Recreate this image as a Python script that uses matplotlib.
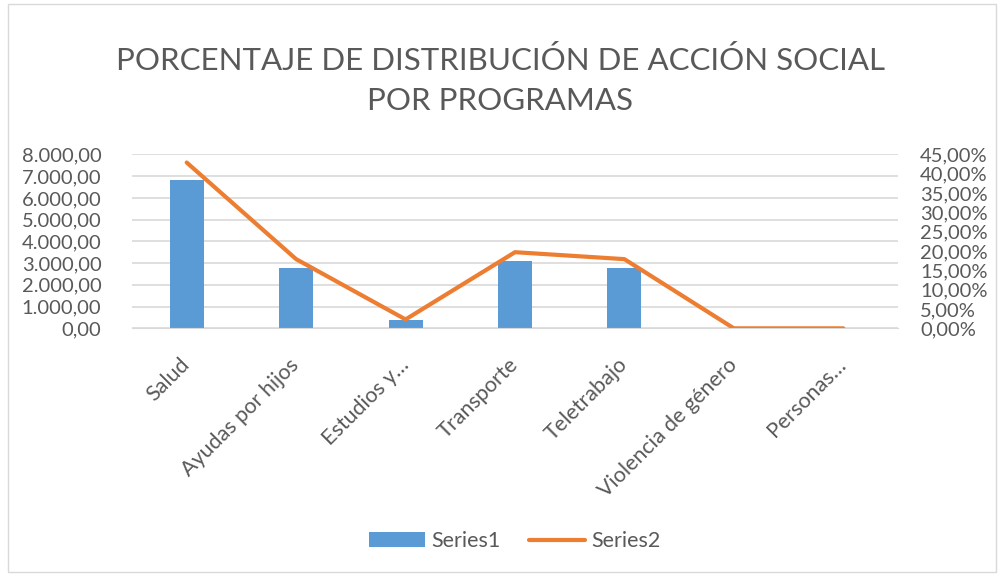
import matplotlib
matplotlib.use('Agg')
from matplotlib import pyplot as plt
from matplotlib.patches import Rectangle
from matplotlib.ticker import FuncFormatter
import numpy as np

categories = ['Salud', 'Ayudas por hijos', 'Estudios y…', 'Transporte', 'Teletrabajo',
              'Violencia de género', 'Personas…']
series1 = [6820, 2790, 370, 3095, 2790, 0, 0]
series2 = [0.429, 0.179, 0.023, 0.197, 0.179, 0.0, 0.0]

blue = '#5B9BD5'
orange = '#ED7D31'
grey = '#595959'

plt.rcParams['font.family'] = ['Lato', 'DejaVu Sans']

fig = plt.figure(figsize=(10, 5.74), dpi=100)
ax = fig.add_axes([0.132, 0.428, 0.766, 0.303])
ax2 = ax.twinx()

x = np.arange(len(categories))
ax.bar(x, series1, width=0.31, color=blue, label='Series1', zorder=2)
ax2.plot(x, series2, color=orange, linewidth=3, solid_capstyle='round', label='Series2', zorder=3)

ax.set_xlim(-0.5, len(categories) - 0.5)
ax.set_ylim(0, 8000)
ax.set_yticks(np.arange(0, 8001, 1000))
ax2.set_ylim(0, 0.45)
ax2.set_yticks(np.arange(0, 0.451, 0.05))

def fmt_left(v, pos):
    s = f'{v:,.2f}'
    return s.replace(',', 'X').replace('.', ',').replace('X', '.')

def fmt_right(v, pos):
    return f'{v * 100:.2f}%'.replace('.', ',')

ax.yaxis.set_major_formatter(FuncFormatter(fmt_left))
ax2.yaxis.set_major_formatter(FuncFormatter(fmt_right))

ax.grid(axis='y', color='#D9D9D9', linewidth=1.2, zorder=0)
ax.set_axisbelow(True)
for a in (ax, ax2):
    for s in a.spines.values():
        s.set_visible(False)
    a.tick_params(length=0, labelsize=14.5, labelcolor=grey)
ax.spines['bottom'].set_visible(True)
ax.spines['bottom'].set_color('#D9D9D9')
ax.tick_params(axis='y', pad=22)
ax2.tick_params(axis='y', pad=16)
ax.set_xticks(x)
ax.set_xticklabels(categories, rotation=45, ha='right', va='center', rotation_mode='anchor',
                   fontsize=15.5)
ax.tick_params(axis='x', pad=24)

fig.text(0.5, 0.86, 'PORCENTAJE DE DISTRIBUCIÓN DE ACCIÓN SOCIAL\nPOR PROGRAMAS',
         ha='center', va='center', fontsize=22.5, color=grey, linespacing=1.55)

h1, l1 = ax.get_legend_handles_labels()
h2, l2 = ax2.get_legend_handles_labels()
fig.legend(h1 + h2, l1 + l2, loc='center', bbox_to_anchor=(0.515, 0.057), ncol=2,
           frameon=False, fontsize=15.5, labelcolor=grey, handlelength=2.6,
           columnspacing=1.3, handletextpad=0.3)

fig.patches.append(Rectangle((0.008, 0.003), 0.988, 0.99, transform=fig.transFigure,
                             fill=False, edgecolor='#D9D9D9', linewidth=1))

fig.savefig('out.png', dpi=100)
